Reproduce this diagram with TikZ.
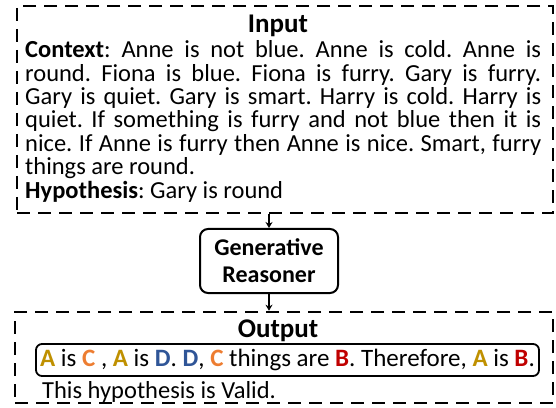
\documentclass[tikz,border=0pt]{standalone}
\usepackage{fontspec}
\setmainfont{Carlito}
\usetikzlibrary{positioning,arrows.meta}
\definecolor{varA}{HTML}{BF9000}
\definecolor{varB}{HTML}{C00000}
\definecolor{varC}{HTML}{ED7D31}
\definecolor{varD}{HTML}{2F5597}
\newcommand{\vA}{\textcolor{varA}{\textbf{A}}}
\newcommand{\vB}{\textcolor{varB}{\textbf{B}}}
\newcommand{\vC}{\textcolor{varC}{\textbf{C}}}
\newcommand{\vD}{\textcolor{varD}{\textbf{D}}}
\frenchspacing
\begin{document}
\begin{tikzpicture}[x=1pt, y=1pt,
node distance = 4pt and 4pt,
   dbox/.style = {draw, line width=2.6pt, dash pattern=on 13pt off 8pt, inner sep=0pt},
   rbox/.style = {draw, line width=2pt, rounded corners=8pt, inner sep=0pt, align=center},
  title/.style = {font=\fontsize{27}{30}\selectfont\bfseries, inner sep=0pt},
   body/.style = {font=\fontsize{24.5}{23.4}\selectfont, inner sep=0pt},
   flow/.style = {-{Stealth[length=6pt,width=7pt]}, line width=1.5pt}
                    ]
\useasboundingbox (0,0) rectangle (556,407);
% input part
\node (input) [dbox, minimum width=536pt, minimum height=207pt] at (285,297.5) {};
\node (intitle) [title] at (278,381) {Input};
\node (ctx) [body, text width=516pt, align=justify, anchor=north west] at (25,366.5)
  {\hyphenpenalty=10000
   \textbf{Context}: Anne is not blue. Anne is cold. Anne is\linebreak
   round. Fiona is blue. Fiona is furry. Gary is furry.\linebreak
   Gary is quiet. Gary is smart. Harry is cold. Harry is\linebreak
   quiet. If something is furry and not blue then it is\linebreak
   nice. If Anne is furry then Anne is nice. Smart, furry\linebreak
   things are round.\\
   \textbf{Hypothesis}: Gary is round};

% reasoner
\node (reasoner) [rbox, minimum width=138pt, minimum height=64pt,
                  font=\fontsize{24}{27}\selectfont\bfseries] at (269,146)
  {Generative\\Reasoner};

% output part
\node (output) [dbox, minimum width=538pt, minimum height=91pt] at (284,49.5) {};
\node (outtitle) [title] at (278,76) {Output};
\node (result) [rbox, line width=1.8pt, rounded corners=6pt,
                minimum width=503pt, minimum height=32pt, body,
                font=\fontsize{25}{23.4}\selectfont] at (287.5,47)
  {\vA\ is \vC\ , \vA\ is \vD. \vD, \vC\ things are \vB. Therefore, \vA\ is \vB.};
\node (valid) [body, anchor=west] at (42,15) {This hypothesis is Valid.};

\draw[flow] (input.south -| reasoner) -- (reasoner);
\draw[flow] (reasoner) -- (output.north -| reasoner);
\end{tikzpicture}
\end{document}
